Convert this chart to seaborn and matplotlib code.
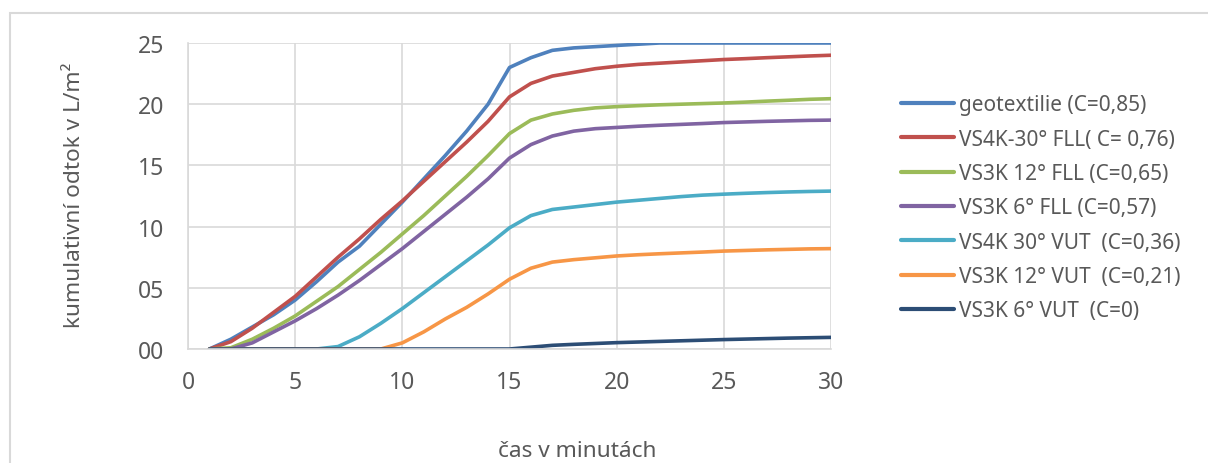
import numpy as np
import pandas as pd
import matplotlib
matplotlib.use("Agg")
import matplotlib.pyplot as plt
import seaborn as sns
from matplotlib.patches import Rectangle

minutes = list(range(1, 31))

geotextilie = [0.0, 0.8, 1.8, 2.8, 4.0, 5.5, 7.1, 8.4, 10.2, 12.0,
               13.9, 15.8, 17.8, 20.0, 23.0, 23.8, 24.4, 24.6, 24.7, 24.8,
               24.9, 25.0, 25.0, 25.0, 25.0, 25.0, 25.0, 25.0, 25.0, 25.0]
vs4k_30_fll = [0.0, 0.6, 1.7, 3.0, 4.3, 5.9, 7.5, 9.0, 10.6, 12.1,
               13.7, 15.3, 16.9, 18.6, 20.6, 21.7, 22.3, 22.6, 22.9, 23.1,
               23.25, 23.35, 23.45, 23.55, 23.65, 23.72, 23.8, 23.87, 23.94, 24.0]
vs3k_12_fll = [0.0, 0.1, 0.8, 1.7, 2.7, 3.9, 5.1, 6.5, 7.9, 9.4,
               10.9, 12.5, 14.1, 15.8, 17.6, 18.7, 19.2, 19.5, 19.7, 19.8,
               19.88, 19.95, 20.0, 20.05, 20.1, 20.17, 20.25, 20.32, 20.4, 20.45]
vs3k_6_fll = [0.0, 0.0, 0.5, 1.4, 2.3, 3.3, 4.4, 5.6, 6.9, 8.2,
              9.6, 11.0, 12.4, 13.9, 15.6, 16.7, 17.4, 17.8, 18.0, 18.1,
              18.2, 18.28, 18.35, 18.42, 18.5, 18.55, 18.6, 18.64, 18.68, 18.7]
vs4k_30_vut = [0.0, 0.0, 0.0, 0.0, 0.0, 0.0, 0.2, 1.0, 2.1, 3.3,
               4.6, 5.9, 7.2, 8.5, 9.9, 10.9, 11.4, 11.6, 11.8, 12.0,
               12.15, 12.3, 12.45, 12.57, 12.65, 12.72, 12.78, 12.83, 12.87, 12.9]
vs3k_12_vut = [0.0, 0.0, 0.0, 0.0, 0.0, 0.0, 0.0, 0.0, 0.0, 0.5,
               1.4, 2.45, 3.4, 4.5, 5.7, 6.6, 7.1, 7.3, 7.45, 7.6,
               7.7, 7.78, 7.85, 7.92, 8.0, 8.05, 8.1, 8.14, 8.18, 8.2]
vs3k_6_vut = [0.0, 0.0, 0.0, 0.0, 0.0, 0.0, 0.0, 0.0, 0.0, 0.0,
              0.0, 0.0, 0.0, 0.0, 0.0, 0.15, 0.3, 0.38, 0.45, 0.52,
              0.57, 0.62, 0.67, 0.72, 0.77, 0.81, 0.85, 0.89, 0.92, 0.95]

labels = ["geotextilie (C=0,85)", "VS4K-30° FLL( C= 0,76)", "VS3K 12° FLL (C=0,65)",
          "VS3K 6° FLL (C=0,57)", "VS4K 30° VUT  (C=0,36)", "VS3K 12° VUT  (C=0,21)",
          "VS3K 6° VUT  (C=0)"]
series = [geotextilie, vs4k_30_fll, vs3k_12_fll, vs3k_6_fll, vs4k_30_vut, vs3k_12_vut, vs3k_6_vut]
colors = ["#4f81bd", "#c0504d", "#9bbb59", "#8064a2", "#4bacc6", "#f79646", "#2c4d75"]

x_ticks = [0, 5, 10, 15, 20, 25, 30]
y_ticks = [0, 5, 10, 15, 20, 25]
y_ticklabels = ["00", "05", "10", "15", "20", "25"]

df = pd.DataFrame({"min": minutes * len(series),
                   "val": [v for s in series for v in s],
                   "serie": [l for l in labels for _ in minutes]})

sns.set_theme(style="white")
plt.rcParams['font.family'] = ['Noto Sans', 'DejaVu Sans']
text_color = "#595959"

fig = plt.figure(figsize=(12.08, 4.64), dpi=100)
fig.patches.append(Rectangle((10 / 1208, -0.1), 1.2, (464 - 14) / 464 + 0.1,
                             transform=fig.transFigure, fill=False,
                             edgecolor="#d9d9d9", linewidth=1.5, zorder=0))
ax = fig.add_axes([188 / 1208, (464 - 350) / 464, (831 - 188) / 1208, (350 - 44) / 464])

sns.lineplot(data=df, x="min", y="val", hue="serie", hue_order=labels,
             palette=colors, linewidth=2.6, ax=ax, legend=True)

ax.set_xlim(0, 30)
ax.set_ylim(0, 25)
ax.set_xticks(x_ticks)
ax.set_yticks(y_ticks)
ax.set_yticklabels(y_ticklabels)
ax.grid(True, color="#d9d9d9", linewidth=1.2)
ax.set_axisbelow(True)
for s in ["top", "right"]:
    ax.spines[s].set_visible(False)
for s in ["left", "bottom"]:
    ax.spines[s].set_color("#d9d9d9")
    ax.spines[s].set_linewidth(1.2)
ax.tick_params(axis="both", colors=text_color, labelsize=16.5, length=0)
ax.tick_params(axis="x", pad=15)
ax.tick_params(axis="y", pad=17)
ax.set_xlabel("čas v minutách", color=text_color, fontsize=16.3)
ax.set_ylabel("kumulativní odtok v L/m²", color=text_color, fontsize=16.3)
ax.xaxis.set_label_coords((577 - 188) / 643, (350 - 452) / 306)
ax.xaxis.label.set_va("center")
ax.yaxis.set_label_coords((75 - 188) / 643, 0.505)
ax.yaxis.label.set_va("center")

handles, lbls = ax.get_legend_handles_labels()
leg = ax.legend(handles, lbls, loc="upper left", bbox_to_anchor=(893 / 1208, (464 - 87) / 464),
                bbox_transform=fig.transFigure, frameon=False, fontsize=15,
                handlelength=2.55, handletextpad=0.2, labelspacing=0.64, borderaxespad=0)
for t in leg.get_texts():
    t.set_color(text_color)
for h in leg.get_lines():
    h.set_linewidth(3)

fig.savefig("out.png", dpi=100)
